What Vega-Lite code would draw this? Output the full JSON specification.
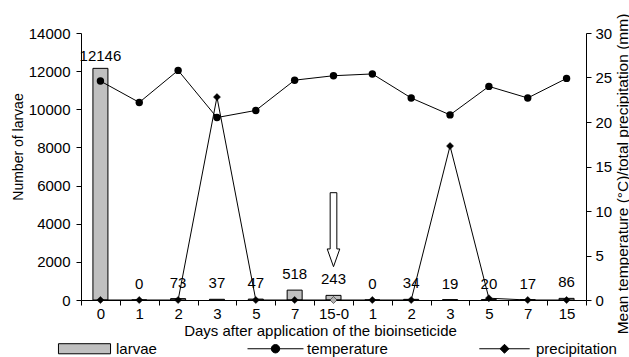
{
  "$schema": "https://vega.github.io/schema/vega-lite/v6.json",
  "width": 505,
  "height": 267,
  "autosize": {"type": "none"},
  "padding": {"left": 81, "top": 33, "right": 43, "bottom": 57},
  "background": "white",
  "config": {
    "view": {"stroke": null},
    "font": "Liberation Sans",
    "axis": {
      "domainColor": "black", "tickColor": "black", "labelColor": "black", "titleColor": "black",
      "labelFont": "Liberation Sans", "titleFont": "Liberation Sans",
      "labelFontSize": 15, "titleFontSize": 15, "titleFontWeight": "normal",
      "grid": false, "tickSize": 5, "domainWidth": 1, "tickWidth": 1
    },
    "legend": {"labelFont": "Liberation Sans", "labelFontSize": 15, "labelColor": "black"}
  },
  "datasets": {
    "main": [
      {"idx": 0, "larvae": 12146, "temperature": 24.6, "precipitation": 0},
      {"idx": 1, "larvae": 0, "temperature": 22.2, "precipitation": 0},
      {"idx": 2, "larvae": 73, "temperature": 25.8, "precipitation": 0},
      {"idx": 3, "larvae": 37, "temperature": 20.5, "precipitation": 22.8},
      {"idx": 4, "larvae": 47, "temperature": 21.3, "precipitation": 0},
      {"idx": 5, "larvae": 518, "temperature": 24.7, "precipitation": 0},
      {"idx": 6, "larvae": 243, "temperature": 25.2, "precipitation": 0},
      {"idx": 7, "larvae": 0, "temperature": 25.4, "precipitation": 0},
      {"idx": 8, "larvae": 34, "temperature": 22.7, "precipitation": 0},
      {"idx": 9, "larvae": 19, "temperature": 20.8, "precipitation": 17.3},
      {"idx": 10, "larvae": 20, "temperature": 24.0, "precipitation": 0.2},
      {"idx": 11, "larvae": 17, "temperature": 22.7, "precipitation": 0},
      {"idx": 12, "larvae": 86, "temperature": 24.9, "precipitation": 0}
    ],
    "arrow": [{"idx": 6, "pos": 3686}],
    "series": [{"series": "larvae"}, {"series": "temperature"}, {"series": "precipitation"}]
  },
  "encoding": {
    "x": {
      "field": "idx", "type": "ordinal",
      "scale": {"paddingInner": 0, "paddingOuter": 0},
      "axis": {
        "title": "Days after application of the bioinseticide",
        "labelAngle": 0, "labelPadding": 1, "tickBand": "extent",
        "titleX": 239, "titleY": 30.5, "titleBaseline": "middle",
        "labelExpr": "['0','1','2','3','5','7','15-0','1','2','3','5','7','15'][datum.value]"
      }
    }
  },
  "layer": [
    {
      "encoding": {
        "y": {
          "type": "quantitative",
          "scale": {"domain": [0, 14000]},
          "axis": {"title": "Number of larvae", "format": "d", "values": [0, 2000, 4000, 6000, 8000, 10000, 12000, 14000], "labelPadding": 6,
                   "titleFontSize": 14, "titleX": -63, "titleY": 113.5, "titleBaseline": "middle", "titleAngle": 270}
        }
      },
      "layer": [
        {
          "data": {"name": "main"},
          "mark": {"type": "bar", "width": 15, "fill": "#c0c0c0", "stroke": "black", "strokeWidth": 1},
          "encoding": {"y": {"field": "larvae", "type": "quantitative"}}
        },
        {
          "data": {"name": "main"},
          "transform": [{"filter": "datum.larvae < 10000"}],
          "mark": {"type": "text", "fontSize": 15, "baseline": "alphabetic", "dy": -11, "color": "black"},
          "encoding": {
            "y": {"field": "larvae", "type": "quantitative"},
            "text": {"field": "larvae", "type": "quantitative", "format": "d"}
          }
        },
        {
          "data": {"name": "main"},
          "transform": [{"filter": "datum.larvae >= 10000"}],
          "mark": {"type": "text", "fontSize": 15, "baseline": "alphabetic", "dy": -7, "color": "black"},
          "encoding": {
            "y": {"field": "larvae", "type": "quantitative"},
            "text": {"field": "larvae", "type": "quantitative", "format": "d"}
          }
        },
        {
          "data": {"name": "arrow"},
          "mark": {"type": "point", "shape": "M -0.09 -1 L 0.09 -1 L 0.09 0.52 L 0.17 0.52 L 0 1 L -0.17 0.52 L -0.09 0.52 Z", "size": 5476, "filled": true, "fill": "white", "stroke": "black", "strokeWidth": 1, "opacity": 1},
          "encoding": {"y": {"field": "pos", "type": "quantitative"}}
        }
      ]
    },
    {
      "encoding": {
        "y": {
          "type": "quantitative",
          "scale": {"domain": [0, 30]},
          "axis": {"orient": "right", "title": "Mean temperature (°C)/total precipitation (mm)", "titleFontSize": 15.5, "titleAngle": 270, "titleBaseline": "middle", "titleX": 36, "titleY": 140.5,
                   "values": [0, 5, 10, 15, 20, 25, 30], "labelPadding": 4}
        }
      },
      "layer": [
        {
          "data": {"name": "main"},
          "mark": {"type": "line", "color": "black", "strokeWidth": 1},
          "encoding": {"y": {"field": "temperature", "type": "quantitative"}}
        },
        {
          "data": {"name": "main"},
          "mark": {"type": "point", "shape": "circle", "filled": true, "size": 55, "color": "black", "opacity": 1},
          "encoding": {"y": {"field": "temperature", "type": "quantitative"}}
        },
        {
          "data": {"name": "main"},
          "mark": {"type": "line", "color": "black", "strokeWidth": 1},
          "encoding": {"y": {"field": "precipitation", "type": "quantitative"}}
        },
        {
          "data": {"name": "main"},
          "mark": {"type": "point", "shape": "diamond", "filled": true, "size": 50, "stroke": "black", "strokeWidth": 0.5, "opacity": 1},
          "encoding": {
            "y": {"field": "precipitation", "type": "quantitative"},
            "fill": {"condition": {"test": "datum.idx == 6", "value": "#b0b0b0"}, "value": "black"}
          }
        },
        {
          "data": {"name": "series"},
          "mark": {"type": "point", "filled": true, "opacity": 0, "strokeWidth": 1},
          "encoding": {
            "x": {"value": 0},
            "y": {"value": 0},
            "shape": {
              "field": "series", "type": "nominal",
              "scale": {
                "domain": ["larvae", "temperature", "precipitation"],
                "range": [
                  "M -0.93 -0.18 L 0.93 -0.18 L 0.93 0.18 L -0.93 0.18 Z",
                  "M -1 0 L 1 0 M 0.15 0 A 0.15 0.15 0 1 1 -0.15 0 A 0.15 0.15 0 1 1 0.15 0 Z",
                  "M -0.9 0 L 0.9 0 M 0 -0.16 L 0.16 0 L 0 0.16 L -0.16 0 Z"
                ]
              },
              "legend": {
                "title": null, "orient": "none", "direction": "horizontal", "columns": 3,
                "legendX": -25, "legendY": 287, "padding": 0,
                "symbolSize": 3136, "symbolOpacity": 1, "symbolStrokeColor": "black", "symbolStrokeWidth": 1,
                "labelOffset": 3, "columnPadding": 88
              }
            },
            "fill": {
              "field": "series", "type": "nominal",
              "scale": {"domain": ["larvae", "temperature", "precipitation"], "range": ["#c0c0c0", "black", "black"]}
            },
            "stroke": {
              "field": "series", "type": "nominal",
              "scale": {"domain": ["larvae", "temperature", "precipitation"], "range": ["black", "black", "black"]}
            }
          }
        }
      ]
    }
  ],
  "resolve": {"scale": {"y": "independent"}}
}
